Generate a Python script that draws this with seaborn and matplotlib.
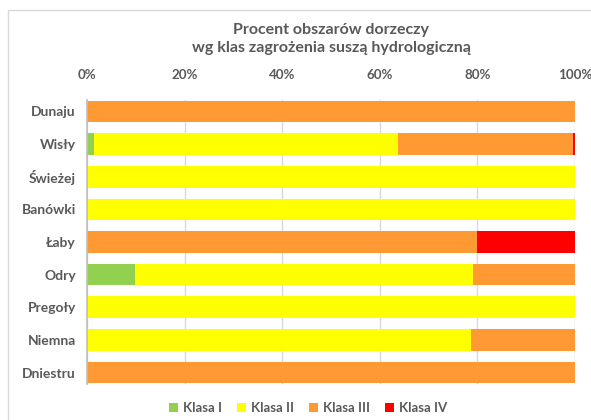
import matplotlib
matplotlib.use("Agg")
import matplotlib.pyplot as plt
import numpy as np
import pandas as pd
import seaborn as sns
from matplotlib.patches import Patch, Rectangle
from matplotlib.ticker import PercentFormatter

rivers = ["Dunaju", "Wisły", "Świeżej", "Banówki", "Łaby", "Odry", "Pregoły", "Niemna", "Dniestru"]
klasa_1 = [0, 1.5, 0, 0, 0, 9.8, 0, 0, 0]
klasa_2 = [0, 62.2, 100, 100, 0, 69.2, 100, 78.7, 0]
klasa_3 = [100, 35.9, 0, 0, 80, 21.0, 0, 21.3, 100]
klasa_4 = [0, 0.4, 0, 0, 20, 0, 0, 0, 0]
class_names = ["Klasa I", "Klasa II", "Klasa III", "Klasa IV"]
colors = ["#92d050", "#ffff00", "#ff9933", "#ff0000"]

sns.set_theme(style="white")
plt.rcParams["font.family"] = ["Lato", "DejaVu Sans"]
text_color = "#595959"

df = pd.DataFrame({"river": rivers, "Klasa I": klasa_1, "Klasa II": klasa_2,
                   "Klasa III": klasa_3, "Klasa IV": klasa_4})
cum = df[class_names].cumsum(axis=1)

fig = plt.figure(figsize=(5.91, 4.2), dpi=100)
fig.patches.append(Rectangle((8 / 591, -0.1), 1.0, 1 - 10 / 420 + 0.1, transform=fig.transFigure,
                             fill=False, edgecolor="#d9d9d9", linewidth=1.0))
ax = fig.add_axes([87 / 591, 1 - 384 / 420, 488 / 591, 284 / 420])

# draw cumulative layers from the widest to the narrowest so they stack
for name, color in reversed(list(zip(class_names, colors))):
    sns.barplot(x=cum[name], y=df["river"], color=color, width=0.665,
                orient="h", ax=ax, saturation=1, linewidth=0)

ax.set_xlim(0, 100)
ax.set_ylim(8.35, -0.35)
ax.xaxis.set_major_formatter(PercentFormatter(decimals=0))
ax.set_xticks(np.arange(0, 101, 20))
ax.xaxis.tick_top()
ax.tick_params(axis="x", length=0, pad=14, labelsize=9.6, labelcolor=text_color)
ax.tick_params(axis="y", length=0, pad=8, labelsize=10, labelcolor=text_color)
for lbl in ax.get_xticklabels() + ax.get_yticklabels():
    lbl.set_fontweight("bold")
ax.set_xlabel("")
ax.set_ylabel("")
ax.grid(axis="x", color="#d9d9d9", linewidth=1)
ax.set_axisbelow(True)
for side in ["top", "right", "bottom"]:
    ax.spines[side].set_visible(False)
ax.spines["left"].set_color("#bfbfbf")

fig.text(331 / 591, 1 - 39 / 420, "Procent obszarów dorzeczy\nwg klas zagrożenia suszą hydrologiczną",
         ha="center", va="center", fontsize=11.5, fontweight="bold", color=text_color, linespacing=1.45)

handles = [Patch(facecolor=c, edgecolor="none", label=n) for n, c in zip(class_names, colors)]
fig.legend(handles=handles, loc="center", bbox_to_anchor=(308 / 591, 1 - 408 / 420), ncol=4,
           frameon=False, handlelength=0.7, handleheight=0.7, handletextpad=0.4, columnspacing=1.1,
           prop={"size": 9.5, "weight": "bold"}, labelcolor=text_color)

fig.savefig("out.png", dpi=100)
